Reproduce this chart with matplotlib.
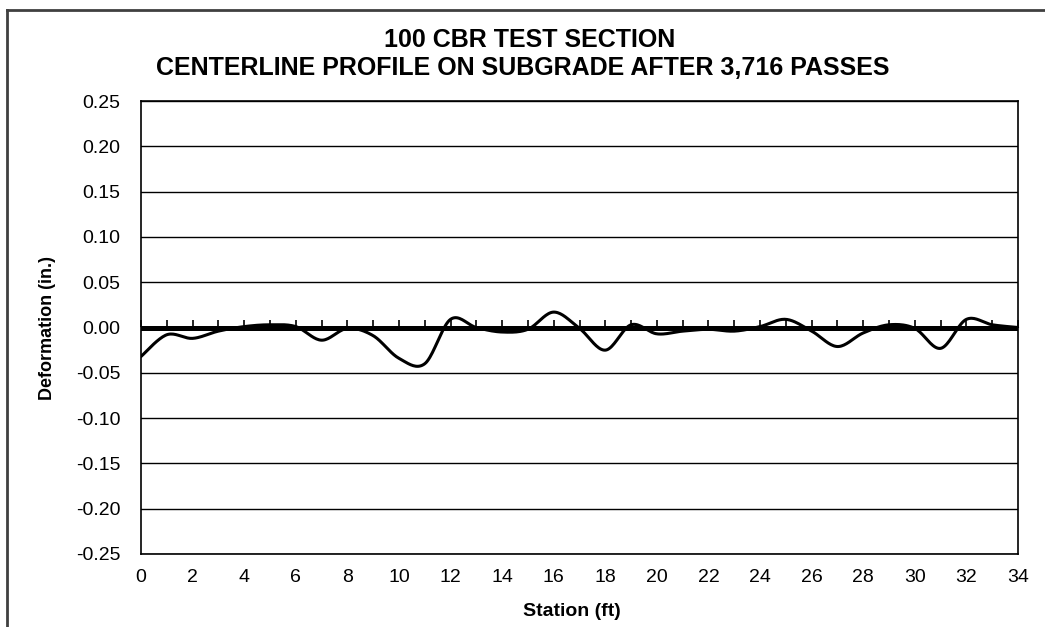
import numpy as np
import matplotlib.pyplot as plt
from matplotlib.lines import Line2D

plt.rcParams['font.family'] = ['Liberation Sans', 'DejaVu Sans']

# Centerline profile readings, one per foot of station
station = list(range(0, 35))
deformation = [-0.032, -0.008, -0.012, -0.004, 0.001, 0.003, 0.001, -0.014, -0.001, -0.009,
               -0.034, -0.040, 0.009, 0.000, -0.005, -0.002, 0.017, -0.001, -0.025, 0.003,
               -0.007, -0.004, -0.002, -0.004, 0.001, 0.009, -0.004, -0.021, -0.006, 0.003,
               -0.001, -0.023, 0.009, 0.003, 0.000]

y_ticks = [-0.25, -0.20, -0.15, -0.10, -0.05, 0.00, 0.05, 0.10, 0.15, 0.20, 0.25]
x_ticks = list(range(0, 35, 2))


def smooth(x, y, n=20):
    # cubic Bezier through each point, control points from neighbouring slopes
    x = np.asarray(x, float)
    y = np.asarray(y, float)
    px = np.concatenate([[x[0]], x, [x[-1]]])
    py = np.concatenate([[y[0]], y, [y[-1]]])
    t = np.linspace(0, 1, n, endpoint=False)[:, None]
    xs, ys = [], []
    for i in range(1, len(px) - 2):
        p0 = np.array([px[i], py[i]])
        p3 = np.array([px[i + 1], py[i + 1]])
        p1 = p0 + (p3 - np.array([px[i - 1], py[i - 1]])) / 6
        p2 = p3 - (np.array([px[i + 2], py[i + 2]]) - p0) / 6
        b = ((1 - t) ** 3) * p0 + 3 * ((1 - t) ** 2) * t * p1 + 3 * (1 - t) * t ** 2 * p2 + t ** 3 * p3
        xs.append(b[:, 0])
        ys.append(b[:, 1])
    xs.append([x[-1]])
    ys.append([y[-1]])
    return np.concatenate(xs), np.concatenate(ys)


fig = plt.figure(figsize=(10.45, 6.27), dpi=100)
ax = fig.add_axes([141 / 1045, 1 - 554 / 627, 877 / 1045, 453 / 627])

ax.set_xlim(0, 34)
ax.set_ylim(-0.25, 0.25)
ax.set_yticks(y_ticks)
ax.set_yticklabels([f'{v:.2f}' for v in y_ticks])
ax.set_xticks(x_ticks)
ax.tick_params(length=0, labelsize=14)
ax.tick_params(axis='y', pad=15)
ax.tick_params(axis='x', pad=11)
ax.grid(axis='y', color='black', linewidth=1)
ax.set_axisbelow(True)
for s in ax.spines.values():
    s.set_linewidth(1.2)

# zero axis: heavy line with a tick at every foot
ax.axhline(0, color='black', linewidth=3.6, zorder=2.5)
zero_axis = ax.secondary_xaxis(0.5)
zero_axis.set_xticks(station)
zero_axis.set_xticklabels([])
zero_axis.tick_params(direction='out', length=5, width=1.2)
zero_axis.spines['bottom'].set_linewidth(3.6)

xs, ys = smooth(station, deformation)
ax.plot(xs, ys, color='black', linewidth=2.2, solid_capstyle='round', zorder=3)

ax.set_xlabel('Station (ft)', fontsize=14, fontweight='bold')
ax.set_ylabel('Deformation (in.)', fontsize=13, fontweight='bold')
ax.xaxis.set_label_coords(0.491, -0.108)
ax.yaxis.set_label_coords(-0.097, 0.5)

fig.text(530 / 1045, 1 - 46.7 / 627, '100 CBR TEST SECTION', ha='center', va='baseline',
         fontsize=18, fontweight='bold')
fig.text(522.5 / 1045, 1 - 75 / 627, 'CENTERLINE PROFILE ON SUBGRADE AFTER 3,716 PASSES',
         ha='center', va='baseline', fontsize=18, fontweight='bold')

# chart area border (left and top edges)
fig.add_artist(Line2D([7 / 1045, 7 / 1045], [0, 1 - 10 / 627], transform=fig.transFigure,
                      color='#404040', linewidth=2))
fig.add_artist(Line2D([7 / 1045, 1], [1 - 10 / 627, 1 - 10 / 627], transform=fig.transFigure,
                      color='#404040', linewidth=2))

fig.savefig('out.png', dpi=100)
